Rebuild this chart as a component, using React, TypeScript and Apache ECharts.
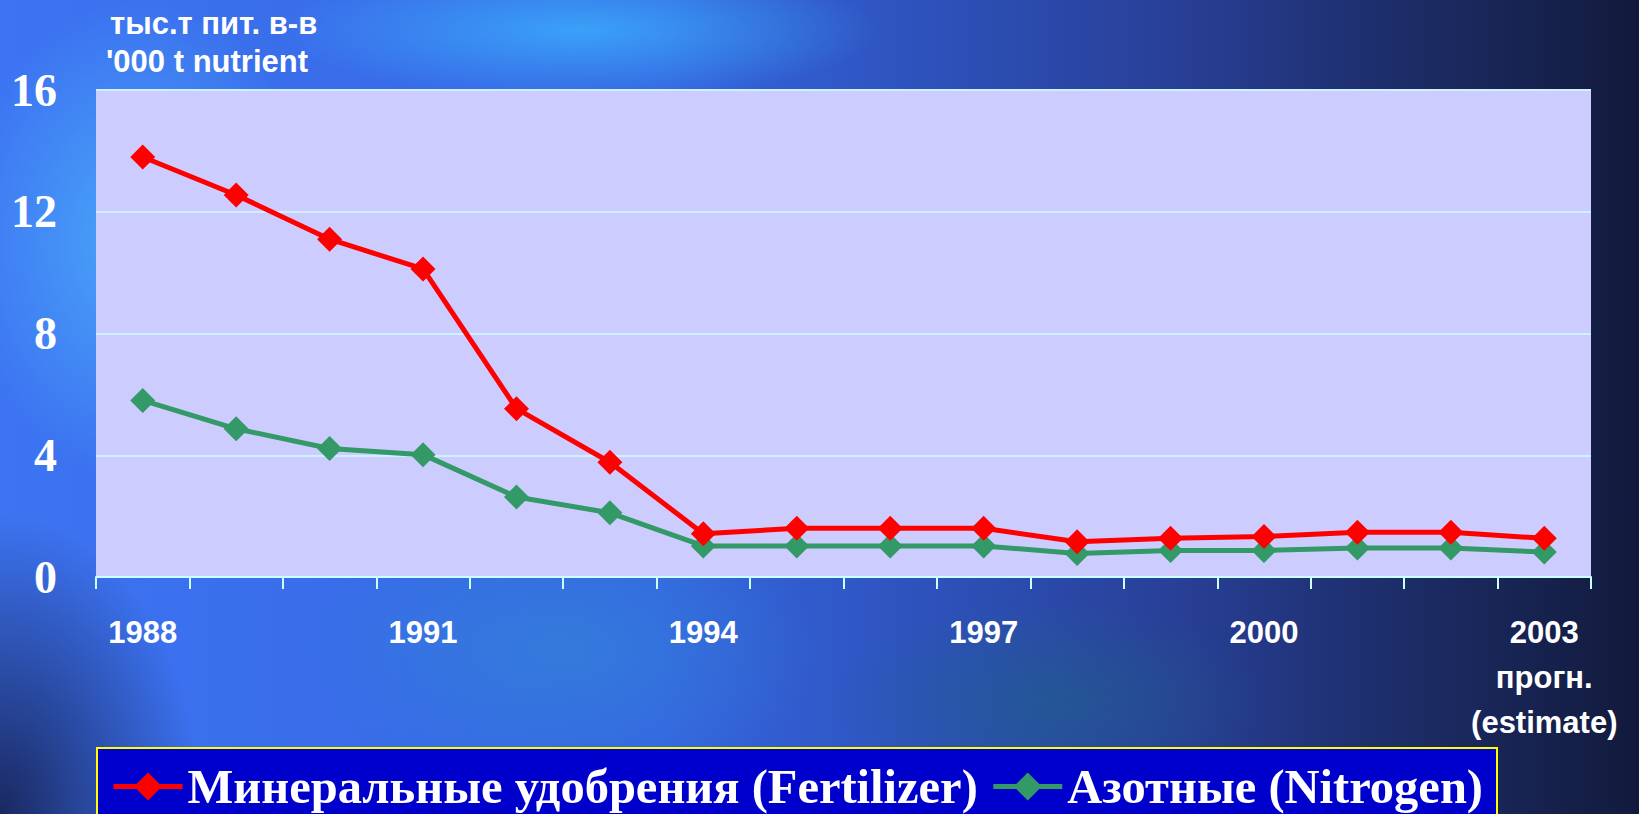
import React, { useEffect, useRef } from "react";
import * as echarts from "echarts";

const years = ["1988", "1989", "1990", "1991", "1992", "1993", "1994", "1995", "1996", "1997", "1998", "1999", "2000", "2001", "2002", "2003"];
const yearLabels = ["1988", "", "", "1991", "", "", "1994", "", "", "1997", "", "", "2000", "", "", "2003\nпрогн.\n(estimate)"];
const fertilizer = [13.8, 12.55, 11.1, 10.12, 5.53, 3.77, 1.42, 1.6, 1.6, 1.6, 1.16, 1.27, 1.33, 1.47, 1.47, 1.27];
const nitrogen = [5.8, 4.87, 4.22, 4.02, 2.63, 2.11, 1.02, 1.02, 1.02, 1.02, 0.77, 0.87, 0.87, 0.95, 0.95, 0.82];
const seriesNames = ["Минеральные удобрения (Fertilizer)", "Азотные (Nitrogen)"];
const unitLines = ["тыс.т пит. в-в", "'000 t nutrient"];

export default function App() {
  const ref = useRef<HTMLDivElement>(null);
  useEffect(() => {
    if (!ref.current) return;
    const chart = echarts.init(ref.current, null, { renderer: "svg" });
    chart.setOption({
      animation: false,
      backgroundColor: "transparent",
      grid: {
        left: 96,
        right: 48,
        top: 90,
        bottom: 237,
        show: true,
        backgroundColor: "#CCCCFF",
        borderWidth: 0,
      },
      graphic: [
        {
          type: "text",
          left: 110,
          top: 8,
          style: {
            text: unitLines[0],
            fill: "#ffffff",
            font: "bold 31px 'Liberation Sans', Arial, sans-serif",
          },
        },
        {
          type: "text",
          left: 106,
          top: 46,
          style: {
            text: unitLines[1],
            fill: "#ffffff",
            font: "bold 31px 'Liberation Sans', Arial, sans-serif",
          },
        },
      ],
      legend: {
        left: 97,
        top: 748,
        orient: "horizontal",
        backgroundColor: "#0000CC",
        borderColor: "#FFFF00",
        borderWidth: 2,
        borderRadius: 0,
        padding: [14, 14, 14, 14],
        itemGap: 13,
        itemWidth: 69,
        itemHeight: 35,
        lineStyle: { width: 5 },
        textStyle: {
          color: "#ffffff",
          fontFamily: "'Liberation Serif', 'Times New Roman', serif",
          fontWeight: "bold",
          fontSize: 48.5,
        },
        data: seriesNames,
      },
      xAxis: {
        type: "category",
        data: years,
        boundaryGap: true,
        axisLine: { show: true, lineStyle: { color: "#CCFFFF", width: 2 } },
        axisTick: { show: true, interval: 0, length: 12, lineStyle: { color: "#CCFFFF", width: 2 } },
        axisLabel: {
          interval: 0,
          margin: 33,
          color: "#ffffff",
          fontFamily: "'Liberation Sans', Arial, sans-serif",
          fontWeight: "bold",
          fontSize: 31,
          lineHeight: 45,
          formatter: (_v: string, i: number) => yearLabels[i],
        },
        splitLine: { show: false },
      },
      yAxis: {
        type: "value",
        min: 0,
        max: 16,
        interval: 4,
        axisLine: { show: false },
        axisTick: { show: false },
        axisLabel: {
          margin: 39,
          color: "#ffffff",
          fontFamily: "'Liberation Serif', 'Times New Roman', serif",
          fontWeight: "bold",
          fontSize: 46,
        },
        splitLine: { show: true, lineStyle: { color: "#CCF2FF", width: 2 } },
      },
      series: [
        {
          name: seriesNames[0],
          type: "line",
          data: fertilizer,
          symbol: "diamond",
          symbolSize: 25,
          itemStyle: { color: "#FF0000" },
          lineStyle: { color: "#FF0000", width: 5 },
          z: 3,
        },
        {
          name: seriesNames[1],
          type: "line",
          data: nitrogen,
          symbol: "diamond",
          symbolSize: 25,
          itemStyle: { color: "#339966" },
          lineStyle: { color: "#339966", width: 5 },
          z: 2,
        },
      ],
    });
    return () => chart.dispose();
  }, []);
  return (
    <div
      style={{
        position: "absolute",
        left: 0,
        top: 0,
        width: 1639,
        height: 814,
        overflow: "hidden",
        background:
          "radial-gradient(ellipse 200px 300px at 0px 814px, rgba(22,32,80,0.9), rgba(22,32,80,0) 100%)," +
          "radial-gradient(ellipse 180px 240px at 140px 240px, rgba(80,190,255,0.7), rgba(80,190,255,0) 100%)," +
          "radial-gradient(ellipse 300px 70px at 580px 30px, rgba(60,180,255,0.75), rgba(60,180,255,0) 100%)," +
          "radial-gradient(ellipse 260px 140px at 560px 650px, rgba(50,130,215,0.7), rgba(50,130,215,0) 100%)," +
          "radial-gradient(ellipse 220px 100px at 1050px 700px, rgba(30,100,130,0.5), rgba(30,100,130,0) 100%)," +
          "linear-gradient(90deg, #3d74f2 0%, #3566e2 40%, #2d50b8 58%, #283f96 72%, #1c2c66 86%, #121a3c 100%)",
      }}
    >
      <div ref={ref} style={{ width: 1639, height: 814 }} />
    </div>
  );
}
